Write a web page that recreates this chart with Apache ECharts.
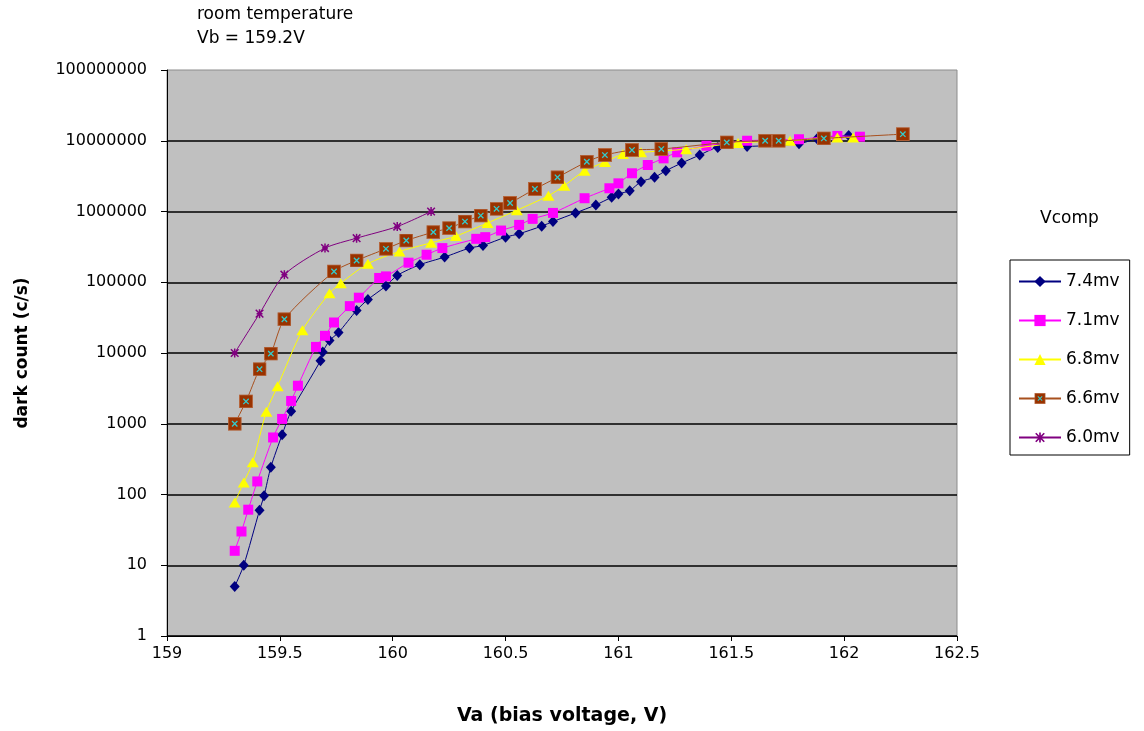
<!DOCTYPE html>
<html>
<head>
<meta charset="utf-8">
<script src="https://cdn.jsdelivr.net/npm/echarts@6/dist/echarts.min.js"></script>
<style>
html,body{margin:0;padding:0;background:#ffffff;}
#chart{width:1144px;height:731px;}
</style>
</head>
<body>
<div id="chart"></div>
<script>
// ---------- data ----------
const seriesNames = ['7.4mv', '7.1mv', '6.8mv', '6.6mv', '6.0mv'];

const x74 = [159.30, 159.34, 159.41, 159.43, 159.46, 159.51, 159.55, 159.68, 159.69, 159.72, 159.76, 159.84, 159.89, 159.97, 160.02, 160.12, 160.23, 160.34, 160.40, 160.50, 160.56, 160.66, 160.71, 160.81, 160.90, 160.97, 161.00, 161.05, 161.10, 161.16, 161.21, 161.28, 161.36, 161.44, 161.57, 161.80, 161.88, 162.02];
const y74 = [5, 10, 60, 96, 243, 700, 1500, 7800, 10300, 15000, 19500, 40000, 57000, 88500, 125000, 177000, 227000, 304000, 331000, 434000, 484000, 621000, 721000, 955000, 1240000, 1590000, 1770000, 1970000, 2640000, 3040000, 3770000, 4840000, 6280000, 8060000, 8300000, 9050000, 10700000, 11900000];

const x71 = [159.30, 159.33, 159.36, 159.40, 159.47, 159.51, 159.55, 159.58, 159.66, 159.70, 159.74, 159.81, 159.85, 159.94, 159.97, 160.07, 160.15, 160.22, 160.37, 160.41, 160.48, 160.56, 160.62, 160.71, 160.85, 160.96, 161.00, 161.06, 161.13, 161.20, 161.26, 161.39, 161.57, 161.80, 161.97, 162.07];
const y71 = [16, 30, 61, 153, 640, 1170, 2100, 3450, 12200, 17500, 27000, 46000, 60500, 115000, 121000, 189000, 245000, 304000, 411000, 434000, 538000, 647000, 787000, 955000, 1540000, 2130000, 2500000, 3470000, 4540000, 5640000, 6860000, 8500000, 10000000, 10500000, 11700000, 11400000];

const x68 = [159.30, 159.34, 159.38, 159.44, 159.49, 159.60, 159.72, 159.77, 159.89, 160.03, 160.17, 160.28, 160.42, 160.55, 160.69, 160.76, 160.85, 160.94, 161.02, 161.10, 161.30, 161.53, 161.76, 161.97, 162.04];
const y68 = [77, 148, 286, 1480, 3400, 21000, 70000, 97000, 183000, 272000, 361000, 449000, 690000, 1040000, 1670000, 2320000, 3770000, 5000000, 6500000, 6850000, 7600000, 9300000, 10000000, 11100000, 11100000];

const x66 = [159.30, 159.35, 159.41, 159.46, 159.52, 159.74, 159.84, 159.97, 160.06, 160.18, 160.25, 160.32, 160.39, 160.46, 160.52, 160.63, 160.73, 160.86, 160.94, 161.06, 161.19, 161.48, 161.65, 161.71, 161.91, 162.26];
const y66 = [1000, 2070, 5900, 9800, 30000, 142000, 203000, 297000, 389000, 511000, 582000, 721000, 875000, 1090000, 1320000, 2080000, 3040000, 5050000, 6280000, 7380000, 7630000, 9480000, 10000000, 10000000, 10800000, 12400000];

const x60 = [159.30, 159.41, 159.52, 159.70, 159.84, 160.02, 160.17];
const y60 = [10000, 36000, 128000, 304000, 420000, 612000, 1000000];

const yTickLabels = ['1', '10', '100', '1000', '10000', '100000', '1000000', '10000000', '100000000'];
const xTickLabels = ['159', '159.5', '160', '160.5', '161', '161.5', '162', '162.5'];

const titleLine1 = 'room temperature';
const titleLine2 = 'Vb = 159.2V';
const legendTitle = 'Vcomp';
const xAxisName = 'Va (bias voltage, V)';
const yAxisName = 'dark count (c/s)';

// ---------- chart ----------
const FONT = "'DejaVu Sans', 'Liberation Sans', Arial, sans-serif";

function svgSymbol(svg) {
  return 'image://data:image/svg+xml;charset=utf-8,' + encodeURIComponent(svg);
}
const brownSymbol = svgSymbol(
  "<svg xmlns='http://www.w3.org/2000/svg' width='42' height='42' viewBox='0 0 14 14'>" +
  "<rect x='0.5' y='0.5' width='13' height='13' fill='#993300' stroke='#B5653C' stroke-width='1'/>" +
  "<path d='M4.3 4.3L9.7 9.7M9.7 4.3L4.3 9.7' stroke='#33CCCC' stroke-width='1.3' fill='none'/></svg>");
const starSymbol = svgSymbol(
  "<svg xmlns='http://www.w3.org/2000/svg' width='30' height='30' viewBox='0 0 10 10'>" +
  "<path d='M5 0.5V9.5M1.2 1.2L8.8 8.8M8.8 1.2L1.2 8.8M2 5H8' stroke='#800080' stroke-width='1.5' fill='none'/></svg>");

function pairs(xs, ys) { return xs.map((v, i) => [v, ys[i]]); }

const styles = [
  { color: '#000080', line: '#000080', symbol: 'diamond', size: [10, 11] },
  { color: '#FF00FF', line: '#FF00FF', symbol: 'rect', size: 10 },
  { color: '#FFFF00', line: '#FFFF00', symbol: 'triangle', size: [12, 10] },
  { color: '#993300', line: '#A8501E', symbol: brownSymbol, size: 14 },
  { color: '#800080', line: '#800080', symbol: starSymbol, size: 10 }
];
const dataSets = [pairs(x74, y74), pairs(x71, y71), pairs(x68, y68), pairs(x66, y66), pairs(x60, y60)];

const series = seriesNames.map((name, i) => ({
  name: name,
  type: 'line',
  data: dataSets[i],
  smooth: 0.25,
  symbol: styles[i].symbol,
  symbolSize: styles[i].size,
  showAllSymbol: true,
  itemStyle: { color: styles[i].color },
  lineStyle: { color: styles[i].line, width: 1 },
  z: 3 + i,
  emphasis: { disabled: true }
}));

const chart = echarts.init(document.getElementById('chart'), null, { renderer: 'canvas' });
chart.setOption({
  animation: false,
  backgroundColor: '#ffffff',
  textStyle: { fontFamily: FONT },
  grid: {
    left: 167, right: 187, top: 70, bottom: 93,
    show: true, backgroundColor: '#C0C0C0', borderColor: '#8C8C8C', borderWidth: 1
  },
  xAxis: {
    type: 'value', min: 159, max: 162.5, interval: 0.5,
    axisLine: { show: true, lineStyle: { color: '#000', width: 1 } },
    axisTick: { show: true, inside: false, length: 5, lineStyle: { color: '#000' } },
    axisLabel: {
      fontFamily: FONT, fontSize: 16, color: '#000', margin: 10,
      formatter: (v) => xTickLabels[Math.round((v - 159) / 0.5)]
    },
    splitLine: { show: false },
    name: xAxisName, nameLocation: 'middle', nameGap: 71,
    nameTextStyle: { fontFamily: FONT, fontSize: 19, fontWeight: 'bold', color: '#000' }
  },
  yAxis: {
    type: 'log', logBase: 10, min: 1, max: 100000000,
    axisLine: { show: true, lineStyle: { color: '#000', width: 1 } },
    axisTick: { show: true, inside: false, length: 6, lineStyle: { color: '#000' } },
    axisLabel: {
      fontFamily: FONT, fontSize: 16, color: '#000', margin: 20,
      formatter: (v) => yTickLabels[Math.round(Math.log10(v))]
    },
    splitLine: { show: true, showMaxLine: false, lineStyle: { color: '#000', width: 1.5 } },
    name: yAxisName, nameLocation: 'middle', nameGap: 136, nameRotate: 90,
    nameTextStyle: { fontFamily: FONT, fontSize: 17, fontWeight: 'bold', color: '#000' }
  },
  legend: {
    orient: 'vertical', left: 1010, top: 260,
    padding: [13, 10, 9, 8], itemGap: 22, itemWidth: 42, itemHeight: 14,
    borderColor: '#000', borderWidth: 1, backgroundColor: '#ffffff',
    textStyle: { fontFamily: FONT, fontSize: 17, color: '#000' },
    data: seriesNames, selectedMode: false
  },
  graphic: [
    { type: 'text', left: 197, top: 6, style: { text: titleLine1, font: '17px ' + FONT, fill: '#000' } },
    { type: 'text', left: 197, top: 30, style: { text: titleLine2, font: '17px ' + FONT, fill: '#000' } },
    { type: 'text', left: 1040, top: 210, style: { text: legendTitle, font: '17px ' + FONT, fill: '#000' } }
  ],
  series: series
});
</script>
</body>
</html>
